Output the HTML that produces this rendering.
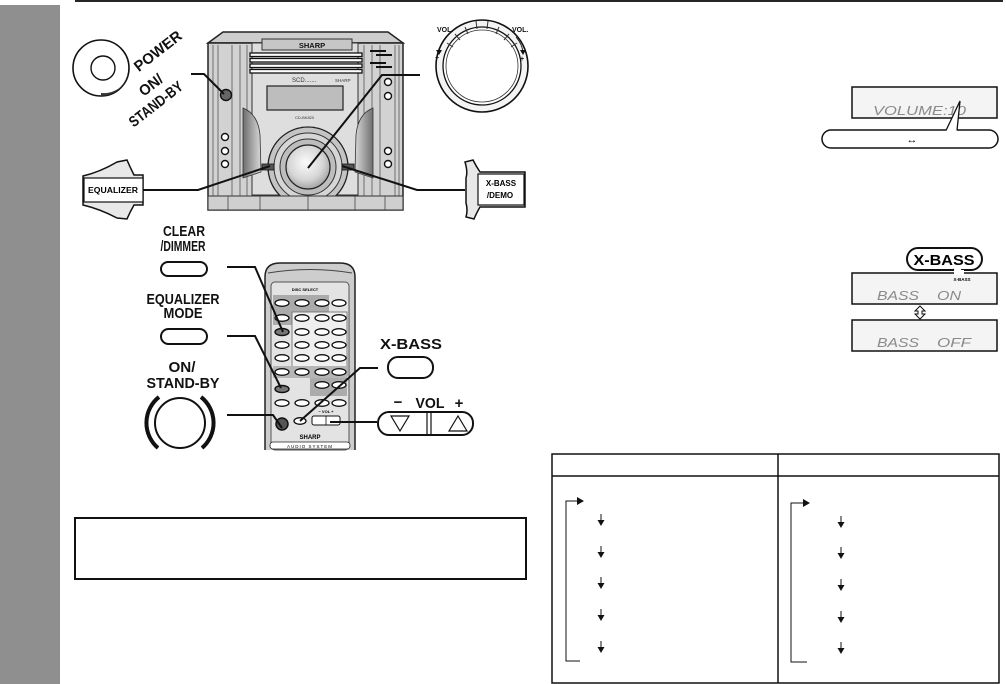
<!DOCTYPE html>
<html><head><meta charset="utf-8"><style>
html,body{margin:0;padding:0;background:#fff;width:1006px;height:684px;overflow:hidden}
svg{display:block}
text{font-family:"Liberation Sans","DejaVu Sans",sans-serif}
</style></head><body>
<svg width="1006" height="684" viewBox="0 0 1006 684" xmlns="http://www.w3.org/2000/svg">
<defs>
<radialGradient id="kg" cx="0.45" cy="0.4" r="0.65"><stop offset="0" stop-color="#fbfbfb"/><stop offset="0.6" stop-color="#d6d6d6"/><stop offset="1" stop-color="#9a9a9a"/></radialGradient>
<linearGradient id="sl" x1="0" x2="1"><stop offset="0" stop-color="#6e6e6e"/><stop offset="1" stop-color="#d8d8d8"/></linearGradient>
<linearGradient id="sr" x1="1" x2="0"><stop offset="0" stop-color="#6e6e6e"/><stop offset="1" stop-color="#d8d8d8"/></linearGradient>
</defs>
<!-- sidebar and top rule -->
<rect x="0" y="5" width="60" height="679" fill="#8f8f8f"/>
<rect x="75" y="0" width="928" height="2" fill="#262626"/>

<!-- POWER button -->
<circle cx="101" cy="68" r="28" fill="#fff" stroke="#111" stroke-width="1.6"/>
<path d="M101,96 A28,28 0 0 0 129,68 A25,25 0 0 1 101,93 Z" fill="#333"/>
<circle cx="103" cy="68" r="12" fill="#fff" stroke="#111" stroke-width="1.4"/>
<g font-weight="bold" font-size="15" fill="#111">
<text transform="translate(161,55) rotate(-38)" text-anchor="middle" textLength="56" lengthAdjust="spacingAndGlyphs">POWER</text>
<text transform="translate(154,89) rotate(-38)" text-anchor="middle" textLength="26" lengthAdjust="spacingAndGlyphs">ON/</text>
<text transform="translate(159,108) rotate(-38)" text-anchor="middle" textLength="64" lengthAdjust="spacingAndGlyphs">STAND-BY</text>
</g>

<!-- Stereo unit -->
<path d="M223,32 L388,32 L403,43 L208,43 Z" fill="#cdcdcd" stroke="#222" stroke-width="1.5"/>
<rect x="208" y="43" width="195" height="167" fill="#d2d2d2" stroke="#222" stroke-width="1.5"/>
<g stroke="#555" stroke-width="0.8">
<line x1="213" y1="45" x2="213" y2="200"/><line x1="218" y1="45" x2="218" y2="200"/>
<line x1="232" y1="45" x2="232" y2="200"/><line x1="240" y1="45" x2="240" y2="200"/>
<line x1="247" y1="45" x2="247" y2="200"/>
<line x1="364" y1="45" x2="364" y2="200"/><line x1="372" y1="45" x2="372" y2="200"/>
<line x1="380" y1="45" x2="380" y2="200"/><line x1="395" y1="45" x2="395" y2="200"/>
<line x1="399" y1="45" x2="399" y2="200"/>
</g>
<rect x="252" y="43" width="106" height="152" fill="#dedede" stroke="#333" stroke-width="1"/>
<rect x="262" y="39" width="90" height="11" fill="#c6c6c6" stroke="#333" stroke-width="1"/>
<text x="312" y="48" text-anchor="middle" font-size="7.5" font-weight="bold" fill="#111">SHARP</text>
<g fill="#fff" stroke="#111" stroke-width="1.3">
<rect x="250" y="53" width="112" height="3.5"/><rect x="250" y="58.5" width="112" height="3.5"/>
<rect x="250" y="64" width="112" height="3.5"/><rect x="250" y="69.5" width="112" height="3.5"/>
</g>
<g fill="#111"><rect x="370" y="50" width="16" height="2"/><rect x="376" y="54" width="16" height="2"/><rect x="370" y="62" width="16" height="2"/><rect x="376" y="66" width="16" height="2"/></g>
<text x="292" y="82" font-size="6" fill="#333">SCD.......</text>
<text x="335" y="82" font-size="4.5" fill="#333">SHARP</text>
<rect x="267" y="86" width="76" height="24" fill="#bdbdbd" stroke="#222" stroke-width="1.2"/>
<text x="295" y="119" font-size="4" fill="#333">CD-BK820</text>
<path d="M243,108 Q258,114 260,135 L261,172 L243,178 Z" fill="url(#sl)" stroke="#333" stroke-width="0.8"/>
<path d="M373,108 Q358,114 356,135 L355,172 L373,178 Z" fill="url(#sr)" stroke="#333" stroke-width="0.8"/>
<circle cx="308" cy="167" r="40" fill="#c4c4c4" stroke="#222" stroke-width="1.3"/>
<circle cx="308" cy="167" r="34" fill="#d6d6d6" stroke="#333" stroke-width="1"/>
<circle cx="308" cy="167" r="28" fill="#bdbdbd" stroke="#333" stroke-width="1"/>
<circle cx="308" cy="167" r="22" fill="url(#kg)" stroke="#222" stroke-width="1.2"/>
<rect x="262" y="164" width="12" height="6" fill="#555" stroke="#111" stroke-width="0.8"/>
<rect x="342" y="164" width="12" height="6" fill="#555" stroke="#111" stroke-width="0.8"/>
<rect x="208" y="196" width="195" height="14" fill="#cfcfcf" stroke="#333" stroke-width="1"/>
<g stroke="#444" stroke-width="0.8"><line x1="228" y1="196" x2="228" y2="210"/><line x1="260" y1="196" x2="260" y2="210"/><line x1="308" y1="196" x2="308" y2="210"/><line x1="355" y1="196" x2="355" y2="210"/><line x1="385" y1="196" x2="385" y2="210"/></g>
<g fill="#fff" stroke="#111" stroke-width="1.4">
<circle cx="225" cy="137" r="3.5"/><circle cx="225" cy="151" r="3.5"/><circle cx="225" cy="164" r="3.5"/>
<circle cx="388" cy="82" r="3.5"/><circle cx="388" cy="96" r="3.5"/><circle cx="388" cy="151" r="3.5"/><circle cx="388" cy="164" r="3.5"/>
</g>
<circle cx="226" cy="95" r="5.5" fill="#666" stroke="#111" stroke-width="1.4"/>

<!-- Volume knob -->
<circle cx="482" cy="66" r="46" fill="#f4f4f4" stroke="#111" stroke-width="1.6"/>
<circle cx="482" cy="66" r="39" fill="#fff" stroke="#111" stroke-width="1.3"/>
<circle cx="482" cy="66" r="36" fill="none" stroke="#333" stroke-width="0.8"/>
<g stroke="#333" stroke-width="1">
<line x1="447" y1="43" x2="453" y2="47"/><line x1="455" y1="34" x2="460" y2="40"/><line x1="465" y1="27" x2="468" y2="34"/>
<line x1="476" y1="21" x2="477" y2="29"/><line x1="488" y1="21" x2="487" y2="29"/><line x1="499" y1="27" x2="496" y2="34"/>
<line x1="509" y1="34" x2="504" y2="40"/><line x1="517" y1="43" x2="511" y2="47"/>
</g>
<g font-size="7" font-weight="bold" fill="#111">
<text x="437" y="32">VOL.</text><text x="512" y="32">VOL.</text>
<text x="435" y="60">−</text><text x="520" y="61">+</text>
</g>
<path d="M446,37 Q440,44 439,52" fill="none" stroke="#111" stroke-width="0.9"/>
<path d="M436,50 L439,55 L442,50 Z" fill="#111"/>
<path d="M516,37 Q522,44 523,52" fill="none" stroke="#111" stroke-width="0.9"/>
<path d="M520,50 L523,55 L526,50 Z" fill="#111"/>

<!-- EQUALIZER key -->
<path d="M83,176 Q100,172 117,162 L127,160 Q130,167 134,175 L143,175 L143,205 L134,205 Q130,212 127,219 L117,218 Q100,209 83,205 Z" fill="#e8e8e8" stroke="#111" stroke-width="1.5"/>
<rect x="84" y="178" width="59" height="24" fill="#fff" stroke="#111" stroke-width="1.2"/>
<text x="113" y="193" text-anchor="middle" font-size="8" font-weight="bold" textLength="50" lengthAdjust="spacingAndGlyphs">EQUALIZER</text>
<!-- X-BASS/DEMO key -->
<path d="M525,172 L480,172 Q476,166 473,160 L465,162 Q468,172 466,178 L466,203 Q468,210 466,217 L474,219 Q477,212 480,207 L525,207 Z" fill="#e8e8e8" stroke="#111" stroke-width="1.5"/>
<rect x="478" y="174" width="46" height="31" fill="#fff" stroke="#111" stroke-width="1.2"/>
<g font-size="8" font-weight="bold"><text x="501" y="186" text-anchor="middle">X-BASS</text><text x="500" y="198" text-anchor="middle">/DEMO</text></g>

<!-- leader lines top -->
<g fill="none" stroke="#111" stroke-width="2">
<path d="M191,74 L204,74 L224,94"/>
<path d="M420,75 L382,75 L308,168"/>
<path d="M143,190 L198,190 L270,166"/>
<path d="M465,190 L417,190 L342,166"/>
</g>

<!-- Remote -->
<path d="M265,450 L265,277 Q265,263 280,263 L340,263 Q355,263 355,277 L355,450" fill="#cdcdcd" stroke="#222" stroke-width="1.5"/>
<path d="M268,273 Q310,266 352,273" fill="none" stroke="#444" stroke-width="1"/>
<rect x="271" y="282" width="78" height="168" rx="4" fill="#e3e3e3" stroke="#555" stroke-width="1"/>
<rect x="273" y="295" width="56" height="30" fill="#ababab"/>
<rect x="292" y="312" width="55" height="64" fill="#efefef" stroke="#666" stroke-width="0.8"/>
<rect x="273" y="366" width="74" height="12" fill="#b5b5b5"/>
<rect x="310" y="378" width="37" height="18" fill="#ababab"/>
<text x="305" y="291" text-anchor="middle" font-size="4" font-weight="bold">DISC SELECT</text>
<g fill="#fff" stroke="#111" stroke-width="1.3">
<ellipse cx="282" cy="303" rx="7" ry="3.3"/><ellipse cx="302" cy="303" rx="7" ry="3.3"/><ellipse cx="322" cy="303" rx="7" ry="3.3"/><ellipse cx="339" cy="303" rx="7" ry="3.3"/>
<ellipse cx="282" cy="318" rx="7" ry="3.3"/><ellipse cx="302" cy="318" rx="7" ry="3.3"/><ellipse cx="322" cy="318" rx="7" ry="3.3"/><ellipse cx="339" cy="318" rx="7" ry="3.3"/>
<ellipse cx="302" cy="332" rx="7" ry="3.3"/><ellipse cx="322" cy="332" rx="7" ry="3.3"/><ellipse cx="339" cy="332" rx="7" ry="3.3"/>
<ellipse cx="282" cy="345" rx="7" ry="3.3"/><ellipse cx="302" cy="345" rx="7" ry="3.3"/><ellipse cx="322" cy="345" rx="7" ry="3.3"/><ellipse cx="339" cy="345" rx="7" ry="3.3"/>
<ellipse cx="282" cy="358" rx="7" ry="3.3"/><ellipse cx="302" cy="358" rx="7" ry="3.3"/><ellipse cx="322" cy="358" rx="7" ry="3.3"/><ellipse cx="339" cy="358" rx="7" ry="3.3"/>
<ellipse cx="282" cy="372" rx="7" ry="3.3"/><ellipse cx="302" cy="372" rx="7" ry="3.3"/><ellipse cx="322" cy="372" rx="7" ry="3.3"/><ellipse cx="339" cy="372" rx="7" ry="3.3"/>
<ellipse cx="322" cy="385" rx="7" ry="3.3"/><ellipse cx="339" cy="385" rx="7" ry="3.3"/>
<ellipse cx="282" cy="403" rx="7" ry="3.3"/><ellipse cx="302" cy="403" rx="7" ry="3.3"/><ellipse cx="322" cy="403" rx="7" ry="3.3"/><ellipse cx="339" cy="403" rx="7" ry="3.3"/>
<ellipse cx="300" cy="421" rx="6" ry="3.3"/>
</g>
<ellipse cx="282" cy="332" rx="7" ry="3.5" fill="#777" stroke="#111" stroke-width="1.4"/>
<ellipse cx="282" cy="389" rx="7" ry="3.5" fill="#777" stroke="#111" stroke-width="1.4"/>
<circle cx="282" cy="424" r="6" fill="#555" stroke="#111" stroke-width="1.5"/>
<rect x="312" y="416" width="28" height="9" rx="2" fill="#fff" stroke="#111" stroke-width="1"/>
<line x1="326" y1="416" x2="326" y2="425" stroke="#111" stroke-width="0.8"/>
<text x="326" y="413" text-anchor="middle" font-size="4" font-weight="bold">− VOL +</text>
<text x="310" y="439" text-anchor="middle" font-size="6" font-weight="bold">SHARP</text>
<rect x="270" y="442" width="80" height="7" rx="3" fill="#fff" stroke="#222" stroke-width="0.8"/>
<text x="310" y="448" text-anchor="middle" font-size="4.5" letter-spacing="1">AUDIO SYSTEM</text>

<!-- remote callout labels -->
<g font-weight="bold" font-size="15" fill="#111" text-anchor="middle">
<text x="184" y="236" textLength="42" lengthAdjust="spacingAndGlyphs">CLEAR</text>
<text x="183" y="251" textLength="45" lengthAdjust="spacingAndGlyphs">/DIMMER</text>
<text x="183" y="304" textLength="73" lengthAdjust="spacingAndGlyphs">EQUALIZER</text>
<text x="183" y="318" textLength="39" lengthAdjust="spacingAndGlyphs">MODE</text>
<text x="182" y="372" textLength="27" lengthAdjust="spacingAndGlyphs">ON/</text>
<text x="183" y="388" textLength="73" lengthAdjust="spacingAndGlyphs">STAND-BY</text>
<text x="411" y="349" textLength="62" lengthAdjust="spacingAndGlyphs">X-BASS</text>
<text x="430" y="408" textLength="29" lengthAdjust="spacingAndGlyphs">VOL</text>
<text x="398" y="407">−</text>
<text x="459" y="408">+</text>
</g>
<g fill="#fff" stroke="#111" stroke-width="2">
<rect x="161" y="262" width="46" height="14" rx="7"/>
<rect x="161" y="329" width="46" height="15" rx="7.5"/>
<rect x="388" y="357" width="45" height="21" rx="10"/>
<rect x="378" y="412" width="95" height="23" rx="11"/>
<circle cx="180" cy="423" r="25"/>
</g>
<g fill="none" stroke="#111" stroke-width="4">
<path d="M159,397 A33,33 0 0 0 158,448"/>
<path d="M201,397 A33,33 0 0 1 202,448"/>
</g>
<g stroke="#111" stroke-width="1.2" fill="none">
<line x1="427" y1="413" x2="427" y2="434"/><line x1="431" y1="413" x2="431" y2="434"/>
<path d="M391,416 L409,416 L400,431 Z"/>
<path d="M449,431 L467,431 L458,416 Z"/>
</g>
<g fill="none" stroke="#111" stroke-width="2">
<path d="M227,267 L255,267 L283,332"/>
<path d="M227,336 L255,336 L281,388"/>
<path d="M227,415 L273,415 L282,428"/>
<path d="M378,368 L360,368 L300,421"/>
<path d="M377,422 L330,422"/>
</g>

<!-- left note box -->
<rect x="75" y="518" width="451" height="61" fill="none" stroke="#111" stroke-width="2"/>

<!-- VOLUME display -->
<rect x="852" y="87" width="145" height="31" fill="#f4f4f4" stroke="#111" stroke-width="1.5"/>
<text x="873" y="115" font-size="13" fill="#8a8a8a" font-style="italic" textLength="93" lengthAdjust="spacingAndGlyphs">VOLUME:10</text>
<rect x="822" y="130" width="176" height="18" rx="9" fill="#fff" stroke="#111" stroke-width="1.5"/>
<path d="M946,131 L960,101 L957,131 Z" fill="#fff" stroke="none"/>
<path d="M946,130.5 L960,101 L957,130.5" fill="none" stroke="#111" stroke-width="1.3"/>
<text x="912" y="143" text-anchor="middle" font-size="11" fill="#111">↔</text>

<!-- X-BASS displays -->
<rect x="907" y="248" width="75" height="22" rx="11" fill="#fff" stroke="#111" stroke-width="2"/>
<path d="M953,269 L958,276 L962,269" fill="#fff" stroke="#111" stroke-width="1.2"/>
<text x="944" y="265" text-anchor="middle" font-size="15" font-weight="bold" textLength="61" lengthAdjust="spacingAndGlyphs">X-BASS</text>
<rect x="852" y="273" width="145" height="31" fill="#f4f4f4" stroke="#111" stroke-width="1.5"/>
<rect x="954" y="270" width="10" height="5" fill="#fff" stroke="none"/>
<text x="962" y="281" text-anchor="middle" font-size="4.5" font-weight="bold">X-BASS</text>
<g font-size="13" fill="#8a8a8a" font-style="italic">
<text x="877" y="300" textLength="42" lengthAdjust="spacingAndGlyphs">BASS</text>
<text x="937" y="300" textLength="24" lengthAdjust="spacingAndGlyphs">ON</text>
</g>
<path d="M920,306 L925,311 L922,311 L922,314 L925,314 L920,319 L915,314 L918,314 L918,311 L915,311 Z" fill="#fff" stroke="#111" stroke-width="1"/>
<rect x="852" y="320" width="145" height="31" fill="#f4f4f4" stroke="#111" stroke-width="1.5"/>
<g font-size="13" fill="#8a8a8a" font-style="italic">
<text x="877" y="347" textLength="42" lengthAdjust="spacingAndGlyphs">BASS</text>
<text x="937" y="347" textLength="34" lengthAdjust="spacingAndGlyphs">OFF</text>
</g>

<!-- Table -->
<rect x="552" y="454" width="447" height="229" fill="none" stroke="#111" stroke-width="1.5"/>
<line x1="552" y1="476" x2="999" y2="476" stroke="#111" stroke-width="1.5"/>
<line x1="778" y1="454" x2="778" y2="683" stroke="#111" stroke-width="1.5"/>
<g fill="none" stroke="#111" stroke-width="1">
<path d="M580,661 L566,661 L566,501 L578,501"/>
<path d="M807,662 L791,662 L791,503 L804,503"/>
</g>
<g fill="#111">
<path d="M577,497 L584,501 L577,505 Z"/>
<path d="M803,499 L810,503 L803,507 Z"/>
</g>
<g stroke="#111" stroke-width="1">
<line x1="601" y1="514" x2="601" y2="522"/><line x1="601" y1="546" x2="601" y2="554"/><line x1="601" y1="577" x2="601" y2="585"/><line x1="601" y1="609" x2="601" y2="617"/><line x1="601" y1="641" x2="601" y2="649"/>
<line x1="841" y1="516" x2="841" y2="524"/><line x1="841" y1="547" x2="841" y2="555"/><line x1="841" y1="579" x2="841" y2="587"/><line x1="841" y1="611" x2="841" y2="619"/><line x1="841" y1="642" x2="841" y2="650"/>
</g>
<g fill="#111">
<path d="M597.5,520 L604.5,520 L601,526 Z"/><path d="M597.5,552 L604.5,552 L601,558 Z"/><path d="M597.5,583 L604.5,583 L601,589 Z"/><path d="M597.5,615 L604.5,615 L601,621 Z"/><path d="M597.5,647 L604.5,647 L601,653 Z"/>
<path d="M837.5,522 L844.5,522 L841,528 Z"/><path d="M837.5,553 L844.5,553 L841,559 Z"/><path d="M837.5,585 L844.5,585 L841,591 Z"/><path d="M837.5,617 L844.5,617 L841,623 Z"/><path d="M837.5,648 L844.5,648 L841,654 Z"/>
</g>
</svg>
</body></html>
